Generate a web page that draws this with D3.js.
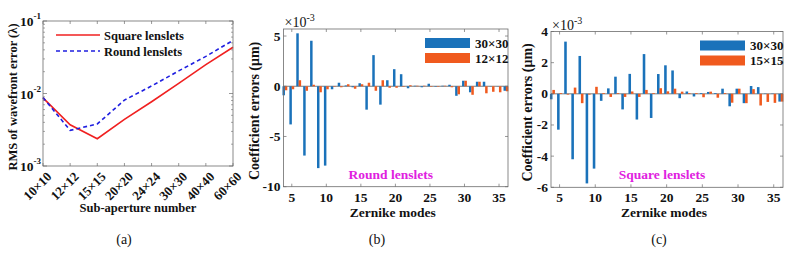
<!DOCTYPE html>
<html>
<head>
<meta charset="utf-8">
<script src="https://cdn.jsdelivr.net/npm/d3@7"></script>
<style>
  html, body { margin: 0; padding: 0; background: #fff; }
  svg { display: block; }
</style>
</head>
<body>
<div id="chart"></div>
<script>
// ── Data ──────────────────────────────────────
// (a) RMS of wavefront error vs sub-aperture number
const SUBAPS = ["10×10","12×12","15×15","20×20","24×24","30×30","40×40","60×60"];
const RMS_SQUARE = [0.0087, 0.0037, 0.00238, 0.0044, 0.0077, 0.0138, 0.0250, 0.0435];
const RMS_ROUND  = [0.0088, 0.0031, 0.0038, 0.0081, 0.0127, 0.0205, 0.0325, 0.0540];
const LOG_TICKS  = [1e-3, 1e-2, 1e-1];

// (b)/(c) Zernike modes 4..36, coefficient errors in units of 1e-3 µm
const MODES = d3.range(4, 37);
const ROUND_30 = [-0.9,-3.8,5.27,-6.9,4.53,-8.15,-7.9,-0.3,0.35,0.08,-0.1,0.3,
                  -2.33,3.1,-1.83,0.6,1.7,1.2,-0.2,0.05,-0.1,0.25,-0.05,0.05,
                  0.15,-0.95,0.55,-0.6,0.45,0.45,0.02,0.02,-0.45];
const ROUND_12 = [-0.4,-0.3,0.6,-0.45,0.15,-0.6,-0.3,-0.05,-0.1,0.2,-0.25,0.2,
                  0.35,-0.45,0.6,-0.15,-0.15,-0.05,0.1,0.05,0.05,-0.05,-0.05,0.05,
                  -0.1,-0.8,0.55,-0.85,0.45,-0.7,-0.55,-0.6,-0.5];
const SQUARE_30 = [-0.35,-2.3,3.35,-4.2,2.43,-5.75,-4.8,-0.45,0.35,1.1,-1.0,1.28,
                   -1.65,2.55,-1.55,1.27,1.83,1.5,-0.28,0.15,-0.17,0.05,0.12,0.05,
                   0.33,-0.8,0.33,-0.6,0.5,0.43,0.02,0.02,-0.5];
const SQUARE_15 = [0.25,0.05,-0.05,0.4,-0.6,-0.05,0.45,0.05,-0.2,0.05,-0.2,0.15,
                   -0.2,0.25,0.05,0.36,0.16,0.33,0.14,0.05,0.05,-0.22,0.14,-0.25,
                   0.05,-0.57,0.33,-0.6,0.3,-0.75,-0.52,-0.58,-0.5];

const RED = "#F02020", BLUE_LINE = "#1F1FE0";
const BAR_BLUE = "#1A72BA", BAR_ORANGE = "#F05A1E";
const AXIS = "#6b6b6b";
const FONT = "'Liberation Serif','Times New Roman',serif";

const svg = d3.select("#chart").append("svg")
  .attr("width", 790).attr("height", 256)
  .attr("font-family", FONT);

function txt(g, x, y, s, size, opts = {}) {
  return g.append("text")
    .attr("x", x).attr("y", y)
    .attr("font-size", size + "px")
    .attr("font-weight", opts.weight || "bold")
    .attr("text-anchor", opts.anchor || "middle")
    .attr("fill", opts.fill || "#111")
    .text(s);
}

// ── Panel (a): log-scale line chart ───────────
(function () {
  const L = 43, R = 233, T = 21, B = 166;
  const x = d3.scalePoint().domain(SUBAPS).range([L, R]);
  const y = d3.scaleLog().domain([1e-3, 1e-1]).range([B, T]);
  const g = svg.append("g");

  // minor ticks
  const minor = [];
  [1e-3, 1e-2].forEach(d => d3.range(2, 10).forEach(k => minor.push(d * k)));
  minor.forEach(v => {
    g.append("line").attr("x1", L).attr("x2", L + 2)
      .attr("y1", y(v)).attr("y2", y(v)).attr("stroke", AXIS).attr("stroke-width", 0.6);
    g.append("line").attr("x1", R).attr("x2", R - 2)
      .attr("y1", y(v)).attr("y2", y(v)).attr("stroke", AXIS).attr("stroke-width", 0.6);
  });
  LOG_TICKS.forEach(v => {
    g.append("line").attr("x1", L).attr("x2", L + 4)
      .attr("y1", y(v)).attr("y2", y(v)).attr("stroke", AXIS).attr("stroke-width", 0.7);
    g.append("line").attr("x1", R).attr("x2", R - 4)
      .attr("y1", y(v)).attr("y2", y(v)).attr("stroke", AXIS).attr("stroke-width", 0.7);
    const t = g.append("text").attr("x", 41).attr("y", y(v) + 5)
      .attr("text-anchor", "end").attr("font-size", "13.5px").attr("font-weight", "bold")
      .attr("fill", "#111");
    t.append("tspan").text("10");
    t.append("tspan").attr("dy", -7).attr("font-size", "9px").text(Math.round(Math.log10(v)));
  });
  SUBAPS.forEach(c => {
    g.append("line").attr("x1", x(c)).attr("x2", x(c))
      .attr("y1", B).attr("y2", B - 3).attr("stroke", AXIS).attr("stroke-width", 0.7);
    g.append("line").attr("x1", x(c)).attr("x2", x(c))
      .attr("y1", T).attr("y2", T + 3).attr("stroke", AXIS).attr("stroke-width", 0.7);
    g.append("text")
      .attr("transform", `translate(${x(c) + 3},${B + 5}) rotate(-45)`)
      .attr("text-anchor", "end").attr("dy", "0.7em")
      .attr("font-size", "13px").attr("font-weight", "bold").attr("fill", "#111")
      .text(c);
  });

  const line = d3.line().x((d, i) => x(SUBAPS[i])).y(d => y(d));
  g.append("path").datum(RMS_SQUARE).attr("d", line)
    .attr("fill", "none").attr("stroke", RED).attr("stroke-width", 1.6);
  g.append("path").datum(RMS_ROUND).attr("d", line)
    .attr("fill", "none").attr("stroke", BLUE_LINE).attr("stroke-width", 1.6)
    .attr("stroke-dasharray", "4,3");

  g.append("rect").attr("x", L).attr("y", T).attr("width", R - L).attr("height", B - T)
    .attr("fill", "none").attr("stroke", AXIS).attr("stroke-width", 0.8);

  // legend
  g.append("line").attr("x1", 56).attr("x2", 100).attr("y1", 35).attr("y2", 35)
    .attr("stroke", RED).attr("stroke-width", 1.6);
  g.append("line").attr("x1", 56).attr("x2", 100).attr("y1", 51).attr("y2", 51)
    .attr("stroke", BLUE_LINE).attr("stroke-width", 1.6).attr("stroke-dasharray", "4,3");
  txt(g, 104, 39.5, "Square lenslets", 12.5, { anchor: "start" });
  txt(g, 104, 55.5, "Round lenslets", 12.5, { anchor: "start" });

  txt(g, 138, 212, "Sub-aperture number", 12.5);
  txt(g, 0, 0, "RMS of wavefront error (λ)", 12.5)
    .attr("transform", "translate(17,97) rotate(-90)");
  txt(g, 124, 244, "(a)", 14, { weight: "normal" });
})();

// ── Panels (b)/(c): grouped bar charts ────────
function barPanel(opt) {
  const { L, R, T, B, yDomain, yTicks, s1, s2, names, note, tag } = opt;
  const x = d3.scaleLinear().domain([3.8, 36.3]).range([L, R]);
  const y = d3.scaleLinear().domain(yDomain).range([B, T]);
  const g = svg.append("g");
  const bw = (x(1) - x(0)) * 0.36;
  const off = 0.17;

  g.append("line").attr("x1", L).attr("x2", R).attr("y1", y(0)).attr("y2", y(0))
    .attr("stroke", "#444").attr("stroke-width", 0.7);

  [[s1, -off, BAR_BLUE], [s2, off, BAR_ORANGE]].forEach(([vals, o, col]) => {
    g.selectAll(null).data(vals).join("rect")
      .attr("x", (d, i) => x(MODES[i] + o) - bw / 2)
      .attr("width", bw)
      .attr("y", d => y(Math.max(0, d)))
      .attr("height", d => Math.abs(y(d) - y(0)))
      .attr("fill", col);
  });

  // ticks
  [5, 10, 15, 20, 25, 30, 35].forEach(v => {
    g.append("line").attr("x1", x(v)).attr("x2", x(v)).attr("y1", B).attr("y2", B - 3)
      .attr("stroke", AXIS).attr("stroke-width", 0.7);
    g.append("line").attr("x1", x(v)).attr("x2", x(v)).attr("y1", T).attr("y2", T + 3)
      .attr("stroke", AXIS).attr("stroke-width", 0.7);
    txt(g, x(v), B + 15, v, 13.5);
  });
  yTicks.forEach(v => {
    g.append("line").attr("x1", L).attr("x2", L + 3).attr("y1", y(v)).attr("y2", y(v))
      .attr("stroke", AXIS).attr("stroke-width", 0.7);
    g.append("line").attr("x1", R).attr("x2", R - 3).attr("y1", y(v)).attr("y2", y(v))
      .attr("stroke", AXIS).attr("stroke-width", 0.7);
    txt(g, L - 3, y(v) + 4.5, v, 13.5, { anchor: "end" });
  });
  g.append("rect").attr("x", L).attr("y", T).attr("width", R - L).attr("height", B - T)
    .attr("fill", "none").attr("stroke", AXIS).attr("stroke-width", 0.8);

  // ×10^-3 multiplier
  const m = g.append("text").attr("x", L + 1).attr("y", T - 2)
    .attr("font-size", "14px").attr("fill", "#111");
  m.append("tspan").text("×10");
  m.append("tspan").attr("dy", -6).attr("font-size", "10px").text("-3");

  // legend
  const lx = R - 83;
  g.append("rect").attr("x", lx).attr("y", T + 9).attr("width", 45).attr("height", 10)
    .attr("fill", BAR_BLUE);
  g.append("rect").attr("x", lx).attr("y", T + 24).attr("width", 45).attr("height", 10)
    .attr("fill", BAR_ORANGE);
  txt(g, lx + 50, T + 18.5, names[0], 13, { anchor: "start" });
  txt(g, lx + 50, T + 33.5, names[1], 13, { anchor: "start" });

  txt(g, (L + R) / 2 - 5, B - 8, note, 13.5, { fill: "#E020E0" });
  txt(g, (L + R) / 2 - 3, B + 30, "Zernike modes", 13.5);
  txt(g, 0, 0, "Coefficient errors (μm)", 14)
    .attr("transform", `translate(${opt.labX},${(T + B) / 2 + 3}) rotate(-90)`);
  txt(g, opt.tagX, 244, tag, 14, { weight: "normal" });
}

barPanel({
  L: 283.5, R: 508, T: 29, B: 186.7, yDomain: [-10, 5.7], yTicks: [-10, -5, 0, 5],
  s1: ROUND_30, s2: ROUND_12, names: ["30×30", "12×12"],
  note: "Round lenslets", tag: "(b)", tagX: 377, labX: 259
});
barPanel({
  L: 551, R: 783, T: 31.5, B: 187.3, yDomain: [-6, 4], yTicks: [-6, -4, -2, 0, 2, 4],
  s1: SQUARE_30, s2: SQUARE_15, names: ["30×30", "15×15"],
  note: "Square lenslets", tag: "(c)", tagX: 659, labX: 532
});
</script>
</body>
</html>
